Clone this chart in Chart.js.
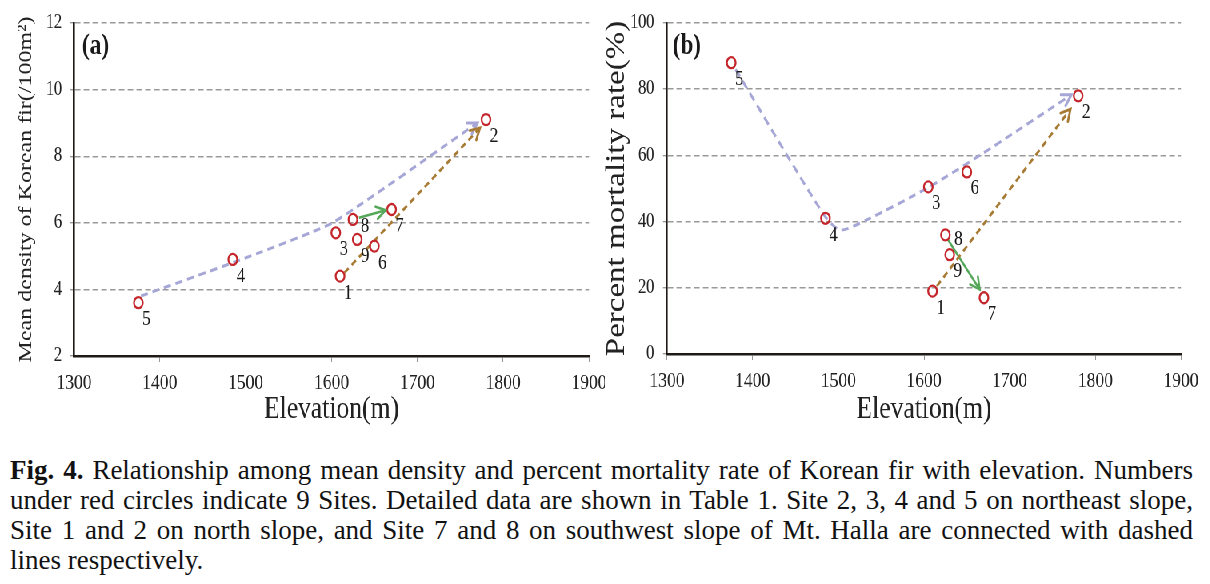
<!DOCTYPE html>
<html>
<head>
<meta charset="utf-8">
<script src="https://cdn.jsdelivr.net/npm/chart.js@4.4.1/dist/chart.umd.min.js"></script>
<style>
  html,body{margin:0;padding:0;background:#fff;}
  body{width:1210px;height:584px;overflow:hidden;position:relative;}
  /* the figure is horizontally squeezed, so draw wide and scale it down */
  #squeeze{position:absolute;left:0;top:0;width:1513px;height:440px;transform:scaleX(0.8);transform-origin:0 0;}
  #squeeze canvas{position:absolute;top:0;}
  #caption{position:absolute;left:10px;top:455px;width:1183px;font:27px "Liberation Serif",serif;line-height:30px;color:#111;}
  #caption div{text-align:justify;text-align-last:justify;white-space:nowrap;}
  #caption div.last{text-align:left;text-align-last:left;}
</style>
</head>
<body>
<div id="squeeze">
  <canvas id="chartA" width="756" height="440" style="left:0"></canvas>
  <canvas id="chartB" width="757" height="440" style="left:756px"></canvas>
</div>
<div id="caption">
  <div><b>Fig. 4.</b> Relationship among mean density and percent mortality rate of Korean fir with elevation. Numbers</div>
  <div>under red circles indicate 9 Sites. Detailed data are shown in Table 1. Site 2, 3, 4 and 5 on northeast slope,</div>
  <div>Site 1 and 2 on north slope, and Site 7 and 8 on southwest slope of Mt. Halla are connected with dashed</div>
  <div class="last">lines respectively.</div>
</div>
<script>
const SQ = 0.8;

/* site data */
const sites = [1, 2, 3, 4, 5, 6, 7, 8, 9];
const elevation = [1610, 1780, 1605, 1485, 1375, 1650, 1670, 1625, 1630];
const density = [4.4, 9.1, 5.7, 4.9, 3.6, 5.3, 6.4, 6.1, 5.5];
const mortality = [19, 78, 50.5, 41, 88, 55, 17, 36, 30];

/* tick labels */
const elevationTicks = [1300, 1400, 1500, 1600, 1700, 1800, 1900];
const densityTicks = [2, 4, 6, 8, 10, 12];
const mortalityTicks = [0, 20, 40, 60, 80, 100];

/* connecting lines [elevation, value] */
const northeastA = [[1378, 3.8], [1490, 4.85], [1601, 6.0], [1770, 9.0]];
const northA = [[1615, 4.5], [1773, 8.85]];
const southwestA = [[1632, 6.15], [1663, 6.38]];
const northeastB = [[1380, 86], [1482, 42.5], [1502, 37.5], [1533, 40.5], [1605, 50.3], [1665, 60], [1772, 78.3]];
const northB = [[1615, 20.5], [1771, 74]];
const southwestB = [[1628, 34.5], [1665, 19.5]];

const SERIF = '"Liberation Serif", "Times New Roman", serif';

const arrowHeads = {
  id: 'arrowHeads',
  afterDatasetsDraw(chart){
    const ctx = chart.ctx;
    chart.data.datasets.forEach((ds, i) => {
      if(!ds.arrow) return;
      const pts = chart.getDatasetMeta(i).data;
      const tip = pts[pts.length - 1];
      let fx = pts[pts.length - 2].x, fy = pts[pts.length - 2].y;
      if(tip.cp1x !== undefined && (tip.cp1x !== tip.x || tip.cp1y !== tip.y)){
        fx = tip.cp1x; fy = tip.cp1y;
      }
      const a = Math.atan2(tip.y - fy, tip.x - fx);
      const len = 13, w = 0.5;
      ctx.save();
      ctx.strokeStyle = ds.borderColor;
      ctx.lineWidth = ds.borderWidth;
      ctx.lineCap = 'round';
      ctx.setLineDash([]);
      ctx.beginPath();
      ctx.moveTo(tip.x - len * Math.cos(a - w), tip.y - len * Math.sin(a - w));
      ctx.lineTo(tip.x, tip.y);
      ctx.lineTo(tip.x - len * Math.cos(a + w), tip.y - len * Math.sin(a + w));
      ctx.stroke();
      ctx.restore();
    });
  }
};

const siteLabels = {
  id: 'siteLabels',
  afterDatasetsDraw(chart, args, o){
    const ctx = chart.ctx;
    const meta = chart.getDatasetMeta(0);
    ctx.save();
    ctx.fillStyle = '#1a1a1a';
    ctx.font = '21px ' + SERIF;
    ctx.textAlign = 'center';
    ctx.textBaseline = 'middle';
    meta.data.forEach((pt, i) => {
      const off = o.shift[sites[i]] || [8, 17];
      ctx.fillText(String(sites[i]), pt.x + off[0] / SQ, pt.y + off[1]);
    });
    ctx.font = 'bold 29px ' + SERIF;
    ctx.textAlign = 'left';
    ctx.fillText(o.panel, chart.chartArea.left + o.panelX, 47);
    ctx.restore();
  }
};

function pathSet(pts, color, width, dash, tension){
  return {
    data: pts.map(p => ({x: p[0], y: p[1]})),
    showLine: true,
    borderColor: color,
    borderWidth: width,
    borderDash: dash,
    tension: tension,
    pointRadius: 0,
    arrow: true
  };
}

function makeChart(canvas, values, yTicks, paths, p){
  return new Chart(canvas, {
    type: 'scatter',
    data: {
      datasets: [{
        data: elevation.map((e, i) => ({x: e, y: values[i]})),
        pointRadius: 5.5,
        pointBorderWidth: 2.3,
        pointBorderColor: '#c4262b',
        pointBackgroundColor: 'rgba(255,255,255,0)'
      }].concat(paths)
    },
    options: {
      responsive: false,
      animation: false,
      events: [],
      layout: {padding: {left: 0, top: 23, right: p.padRight, bottom: 0}},
      plugins: {
        legend: {display: false},
        tooltip: {enabled: false},
        siteLabels: {panel: p.panel, panelX: p.panelX, shift: p.shift}
      },
      scales: {
        x: {
          min: elevationTicks[0],
          max: elevationTicks[elevationTicks.length - 1],
          ticks: {stepSize: elevationTicks[1] - elevationTicks[0], color: '#222', padding: 8,
                  font: {family: SERIF, size: 22}, callback: v => String(v)},
          grid: {drawOnChartArea: false, tickLength: 6, color: '#999'},
          border: {color: '#1f1a17', width: 2.6},
          title: {display: true, text: 'Elevation(m)', color: '#222',
                  font: {family: SERIF, size: 32}, padding: {top: 0, bottom: 11}},
          afterFit: s => { s.height = p.xHeight; s.paddingLeft = 0; s.paddingRight = 0; }
        },
        y: {
          min: yTicks[0],
          max: yTicks[yTicks.length - 1],
          ticks: {stepSize: yTicks[1] - yTicks[0], color: '#222', padding: p.tickPad,
                  font: {family: SERIF, size: 20}},
          grid: {color: '#9a9a9a', lineWidth: 1.4, tickLength: 5, tickColor: '#9a9a9a'},
          border: {color: '#1f1a17', width: 2.6, dash: [7, 4]},
          title: {display: true, text: p.yTitle, color: '#222',
                  font: {family: SERIF, size: p.yTitleSize, lineHeight: p.yTitleLH},
                  padding: {top: p.yTitlePad, bottom: 0}},
          afterFit: s => { s.width = p.yWidth; s.paddingTop = 0; s.paddingBottom = 0; }
        }
      }
    },
    plugins: [arrowHeads, siteLabels]
  });
}

const lavender = '#a6a7d6', brown = '#a87b35', green = '#55a85a';

makeChart(chartA, density, densityTicks, [
  pathSet(northeastA, lavender, 3, [9, 6], 0.15),
  pathSet(northA, brown, 2.8, [7, 5], 0),
  pathSet(southwestA, green, 2.6, [], 0)
], {
  panel: '(a)', panelX: 10, shift: {8: [12, 7]},
  padRight: 19.75, yWidth: 92.5, xHeight: 84, tickPad: 10,
  yTitle: 'Mean density of Korean fir(/100m\u00B2)', yTitleSize: 24, yTitleLH: 1.2, yTitlePad: 18
});

makeChart(chartB, mortality, mortalityTicks, [
  pathSet(northeastB, lavender, 3, [9, 6], 0.25),
  pathSet(northB, brown, 2.8, [7, 5], 0),
  pathSet(southwestB, green, 2.6, [], 0)
], {
  panel: '(b)', panelX: 7, shift: {8: [13, 5]},
  padRight: 36.75, yWidth: 77.75, xHeight: 86, tickPad: 11,
  yTitle: 'Percent mortality rate(%)', yTitleSize: 33, yTitleLH: 0.92, yTitlePad: 0
});
</script>
</body>
</html>
